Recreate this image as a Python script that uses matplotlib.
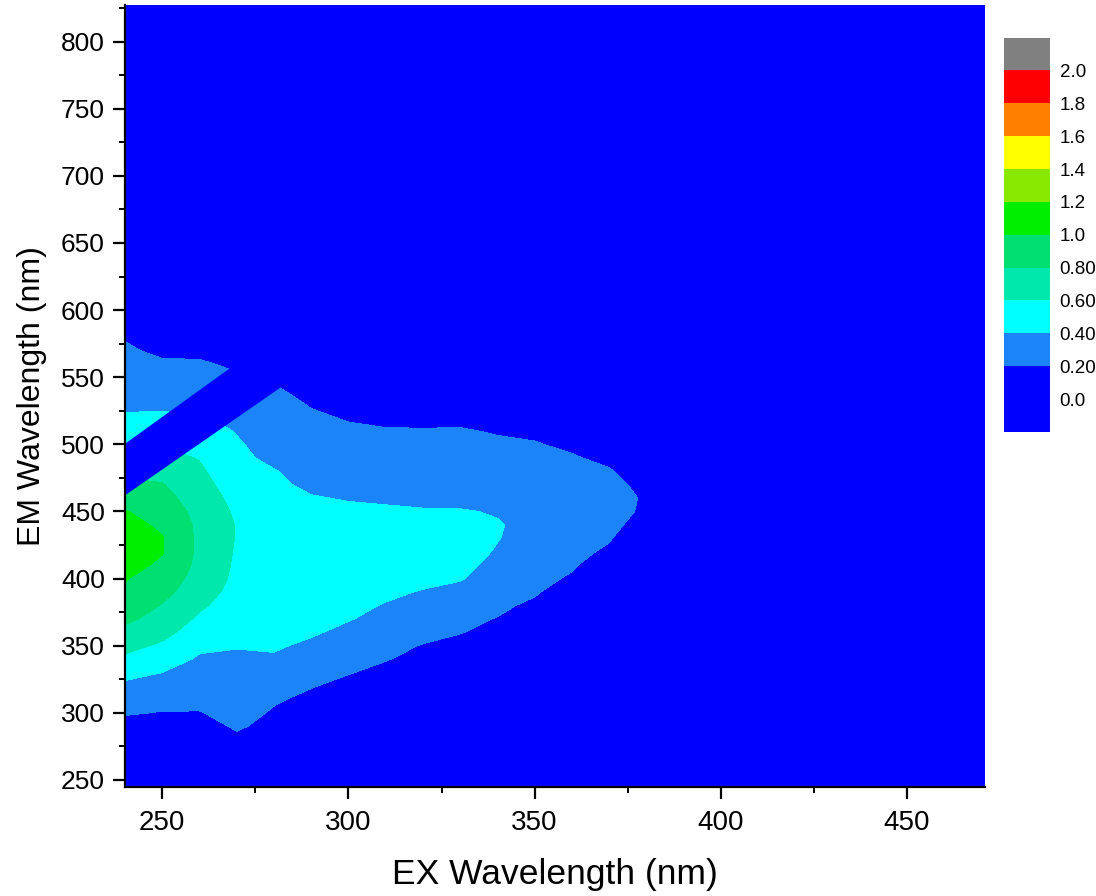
import numpy as np
import matplotlib
matplotlib.use('Agg')
import matplotlib.pyplot as plt
from matplotlib.colors import ListedColormap
from matplotlib.ticker import MultipleLocator

# ================= DADOS =================
# comprimentos de onda de excitação (colunas da matriz)
ex_nm = [240, 250, 260, 270, 280, 290, 300, 310, 320, 330, 340, 350, 360, 370, 380, 390]
# comprimentos de onda de emissão (280 ... 600 nm, passo 10)
em_nm = [280, 290, 300, 310, 320, 330, 340, 350, 360, 370,
         380, 390, 400, 410, 420, 430, 440, 450, 460, 470,
         480, 490, 500, 510, 520, 530, 540, 550, 560, 570,
         580, 590, 600]

# intensidade, uma linha por excitação (emissão 280 -> 600)
intensidade = [
    [0.05, 0.12, 0.22, 0.29, 0.36, 0.46, 0.56, 0.66, 0.75, 0.84,
     0.92, 0.97, 1.01, 1.06, 1.09, 1.09, 1.06, 1.01, 0.93, 0.85,
     0.75, 0.65, 0.56, 0.48, 0.42, 0.37, 0.33, 0.29, 0.25, 0.22,
     0.19, 0.08, 0.00],  # 240
    [0.04, 0.12, 0.19, 0.27, 0.34, 0.40, 0.48, 0.57, 0.66, 0.73,
     0.79, 0.86, 0.92, 0.97, 1.01, 1.01, 0.97, 0.92, 0.86, 0.81,
     0.74, 0.66, 0.58, 0.50, 0.43, 0.36, 0.31, 0.26, 0.22, 0.17,
     0.10, 0.04, 0.00],  # 250
    [0.03, 0.10, 0.19, 0.26, 0.31, 0.35, 0.38, 0.43, 0.50, 0.57,
     0.63, 0.68, 0.72, 0.75, 0.76, 0.76, 0.76, 0.74, 0.71, 0.67,
     0.63, 0.59, 0.54, 0.48, 0.42, 0.36, 0.32, 0.27, 0.22, 0.16,
     0.08, 0.02, 0.00],  # 260
    [0.15, 0.23, 0.27, 0.30, 0.32, 0.34, 0.37, 0.41, 0.44, 0.48,
     0.51, 0.54, 0.56, 0.57, 0.58, 0.59, 0.59, 0.57, 0.54, 0.50,
     0.47, 0.44, 0.42, 0.39, 0.35, 0.31, 0.26, 0.22, 0.17, 0.10,
     0.04, 0.00, 0.00],  # 270
    [0.06, 0.13, 0.18, 0.22, 0.27, 0.32, 0.38, 0.42, 0.45, 0.47,
     0.49, 0.50, 0.51, 0.52, 0.52, 0.51, 0.50, 0.48, 0.45, 0.43,
     0.41, 0.36, 0.33, 0.30, 0.28, 0.25, 0.22, 0.18, 0.12, 0.06,
     0.02, 0.00, 0.00],  # 280
    [0.00, 0.05, 0.11, 0.16, 0.21, 0.27, 0.32, 0.37, 0.42, 0.45,
     0.47, 0.49, 0.50, 0.50, 0.50, 0.49, 0.47, 0.44, 0.41, 0.37,
     0.33, 0.30, 0.27, 0.24, 0.22, 0.19, 0.15, 0.10, 0.05, 0.02,
     0.00, 0.00, 0.00],  # 290
    [0.00, 0.00, 0.05, 0.10, 0.15, 0.21, 0.26, 0.31, 0.36, 0.41,
     0.44, 0.46, 0.48, 0.49, 0.49, 0.48, 0.46, 0.43, 0.39, 0.35,
     0.31, 0.28, 0.25, 0.22, 0.19, 0.15, 0.10, 0.05, 0.02, 0.00,
     0.00, 0.00, 0.00],  # 300
    [0.00, 0.00, 0.00, 0.04, 0.09, 0.15, 0.21, 0.26, 0.31, 0.35,
     0.39, 0.43, 0.46, 0.47, 0.48, 0.47, 0.45, 0.42, 0.38, 0.34,
     0.30, 0.27, 0.24, 0.21, 0.17, 0.12, 0.07, 0.03, 0.00, 0.00,
     0.00, 0.00, 0.00],  # 310
    [0.00, 0.00, 0.00, 0.00, 0.03, 0.08, 0.14, 0.19, 0.26, 0.31,
     0.36, 0.39, 0.44, 0.46, 0.47, 0.46, 0.44, 0.41, 0.37, 0.33,
     0.29, 0.26, 0.23, 0.21, 0.16, 0.11, 0.06, 0.02, 0.00, 0.00,
     0.00, 0.00, 0.00],  # 320
    [0.00, 0.00, 0.00, 0.00, 0.00, 0.02, 0.07, 0.13, 0.21, 0.26,
     0.31, 0.36, 0.41, 0.43, 0.45, 0.45, 0.43, 0.41, 0.36, 0.32,
     0.28, 0.25, 0.23, 0.21, 0.17, 0.12, 0.07, 0.03, 0.00, 0.00,
     0.00, 0.00, 0.00],  # 330
    [0.00, 0.00, 0.00, 0.00, 0.00, 0.00, 0.02, 0.07, 0.13, 0.19,
     0.25, 0.30, 0.34, 0.37, 0.39, 0.405, 0.41, 0.39, 0.35, 0.31,
     0.27, 0.24, 0.22, 0.19, 0.15, 0.10, 0.05, 0.02, 0.00, 0.00,
     0.00, 0.00, 0.00],  # 340
    [0.00, 0.00, 0.00, 0.00, 0.00, 0.00, 0.00, 0.00, 0.00, 0.05,
     0.15, 0.23, 0.27, 0.30, 0.33, 0.35, 0.36, 0.35, 0.32, 0.29,
     0.26, 0.23, 0.21, 0.17, 0.12, 0.07, 0.03, 0.00, 0.00, 0.00,
     0.00, 0.00, 0.00],  # 350
    [0.00, 0.00, 0.00, 0.00, 0.00, 0.00, 0.00, 0.00, 0.00, 0.00,
     0.00, 0.05, 0.17, 0.23, 0.27, 0.29, 0.30, 0.30, 0.28, 0.26,
     0.24, 0.215, 0.17, 0.11, 0.05, 0.00, 0.00, 0.00, 0.00, 0.00,
     0.00, 0.00, 0.00],  # 360
    [0.00, 0.00, 0.00, 0.00, 0.00, 0.00, 0.00, 0.00, 0.00, 0.00,
     0.00, 0.00, 0.00, 0.05, 0.16, 0.22, 0.25, 0.265, 0.265, 0.25,
     0.215, 0.16, 0.09, 0.03, 0.00, 0.00, 0.00, 0.00, 0.00, 0.00,
     0.00, 0.00, 0.00],  # 370
    [0.00, 0.00, 0.00, 0.00, 0.00, 0.00, 0.00, 0.00, 0.00, 0.00,
     0.00, 0.00, 0.00, 0.00, 0.00, 0.00, 0.12, 0.17, 0.18, 0.15,
     0.09, 0.03, 0.00, 0.00, 0.00, 0.00, 0.00, 0.00, 0.00, 0.00,
     0.00, 0.00, 0.00],  # 380
    [0.00] * 33,  # 390
]

# faixa do espalhamento Rayleigh de 2a ordem (zerada no espectro)
banda_ex = [235, 300]
banda_em_inf = [453, 578]
banda_em_sup = [491, 621]

# níveis e cores da escala
niveis = [0.0, 0.2, 0.4, 0.6, 0.8, 1.0, 1.2, 1.4, 1.6, 1.8, 2.0]
rotulos_escala = ['0.0', '0.20', '0.40', '0.60', '0.80', '1.0', '1.2', '1.4', '1.6', '1.8', '2.0']
cores = ['#0000ff', '#1a84f8', '#00ffff', '#00e8ac', '#00e070',
         '#00ee00', '#88e800', '#ffff00', '#ff8000', '#ff0000']
cor_abaixo = '#0000ff'
cor_acima = '#808080'


def plotar_eem():
    """Mapa de contorno da matriz excitação-emissão"""
    plt.rcParams['font.family'] = ['Liberation Sans', 'DejaVu Sans']

    fig = plt.figure(figsize=(10.96, 8.96), dpi=100)
    ax = fig.add_axes([0.114, 0.122, 0.785, 0.872])
    cax = fig.add_axes([0.916, 0.518, 0.042, 0.44])

    cmap = ListedColormap(cores)
    cmap.set_under(cor_abaixo)
    cmap.set_over(cor_acima)

    z = np.array(intensidade).T
    ax.set_facecolor(cores[0])
    cs = ax.contourf(ex_nm, em_nm, z, levels=niveis, cmap=cmap, extend='both')

    # faixa de espalhamento
    ax.fill_between(banda_ex, banda_em_inf, banda_em_sup, color=cores[0], lw=0)

    ax.set_xlim(240, 471)
    ax.set_ylim(245, 827)

    # eixos
    ax.xaxis.set_major_locator(MultipleLocator(50))
    ax.xaxis.set_minor_locator(MultipleLocator(25))
    ax.yaxis.set_major_locator(MultipleLocator(50))
    ax.yaxis.set_minor_locator(MultipleLocator(25))
    ax.tick_params(which='major', direction='out', length=8.5, width=1.6)
    ax.tick_params(which='minor', direction='out', length=4.5, width=1.4)
    ax.tick_params(axis='x', which='major', labelsize=20, pad=8)
    ax.tick_params(axis='y', which='major', labelsize=19, pad=6)
    for lado in ['top', 'right']:
        ax.spines[lado].set_visible(False)
    for lado in ['left', 'bottom']:
        ax.spines[lado].set_linewidth(1.6)

    ax.set_xlabel('EX Wavelength (nm)', fontsize=25.5, labelpad=16)
    ax.set_ylabel('EM Wavelength (nm)', fontsize=23, labelpad=10)

    # barra de cores
    cb = fig.colorbar(cs, cax=cax, extend='both', extendrect=True, extendfrac=0.1)
    cb.set_ticks(niveis)
    cb.set_ticklabels(rotulos_escala)
    cb.outline.set_visible(False)
    cax.tick_params(length=0, labelsize=13.5, pad=7)

    fig.savefig('out.png', dpi=100)


if __name__ == '__main__':
    plotar_eem()
